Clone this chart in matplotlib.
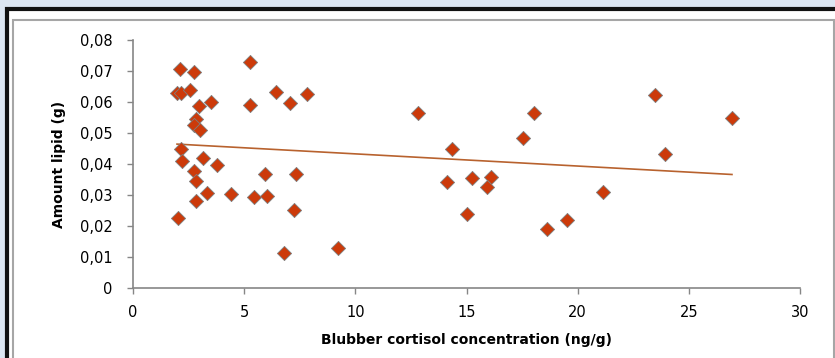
import numpy as np
import matplotlib.pyplot as plt
from matplotlib.patches import Rectangle
from matplotlib.ticker import FuncFormatter

# Données
cortisol = [2.10, 2.73, 1.98, 2.14, 2.58, 2.96, 3.49, 2.82, 2.73, 3.00,
            2.14, 2.22, 3.14, 3.77, 2.74, 2.85, 3.35, 4.42, 2.82, 2.02,
            5.25, 5.25, 6.42, 7.05, 7.84, 5.93, 7.35, 5.45, 6.02, 7.26,
            6.77, 9.22, 12.80, 14.34, 14.13, 15.24, 16.09, 15.90, 15.04, 17.56,
            18.05, 18.61, 19.53, 21.14, 23.50, 23.92, 26.94]
lipid = [0.0707, 0.0696, 0.0630, 0.0630, 0.0639, 0.0587, 0.0600, 0.0545, 0.0526, 0.0510,
         0.0449, 0.0411, 0.0419, 0.0397, 0.0377, 0.0344, 0.0307, 0.0303, 0.0280, 0.0225,
         0.0729, 0.0590, 0.0631, 0.0596, 0.0627, 0.0367, 0.0367, 0.0294, 0.0297, 0.0251,
         0.0113, 0.0130, 0.0565, 0.0449, 0.0341, 0.0355, 0.0359, 0.0325, 0.0239, 0.0484,
         0.0565, 0.0189, 0.0219, 0.0311, 0.0622, 0.0432, 0.0548]

plt.rcParams['font.family'] = ['DejaVu Sans']

fig = plt.figure(figsize=(8.35, 3.58), dpi=100)
fig.patch.set_facecolor('#dce6f2')

# cadre noir + zone blanche + bordure grise (style Excel)
W, H = 835, 358
fig.patches.append(Rectangle((7 / W, -0.1), 1, 1 - 9 / H + 0.1, transform=fig.transFigure,
                             facecolor='white', edgecolor='#111111', linewidth=3, zorder=-10))
fig.patches.append(Rectangle((13 / W, -0.1), (834 - 13) / W, 1 - 20 / H + 0.1, transform=fig.transFigure,
                             facecolor='white', edgecolor='#a6a6a6', linewidth=1.5, zorder=-9))

ax = fig.add_axes([133 / W, 1 - 288 / H, (800 - 133) / W, (288 - 40) / H])
ax.patch.set_alpha(0)

ax.scatter(cortisol, lipid, marker='D', s=52, color='#cc3a0a', edgecolors='#7f7f7f',
           linewidths=0.6, zorder=3)

# courbe de tendance linéaire
a, b = np.polyfit(cortisol, lipid, 1)
xt = np.array([min(cortisol), max(cortisol)])
ax.plot(xt, a * xt + b, color='#b8622e', linewidth=1.2, zorder=2)

ax.set_xlim(0, 30)
ax.set_ylim(0, 0.08)
ax.set_xticks(range(0, 31, 5))
ax.set_yticks(np.arange(0, 0.081, 0.01))
ax.yaxis.set_major_formatter(FuncFormatter(lambda v, p: '0' if v == 0 else f"{v:.2f}".replace('.', ',')))

for s in ['top', 'right']:
    ax.spines[s].set_visible(False)
for s in ['left', 'bottom']:
    ax.spines[s].set_color('#868686')
    ax.spines[s].set_linewidth(1.2)
ax.tick_params(colors='#868686', labelcolor='black', labelsize=10.5, length=4.5, width=1)
ax.tick_params(axis='x', pad=8)
ax.tick_params(axis='y', pad=10)

ax.set_xlabel('Blubber cortisol concentration (ng/g)', fontsize=10, fontweight='bold')
ax.set_ylabel('Amount lipid (g)', fontsize=10, fontweight='bold')
ax.xaxis.set_label_coords(0.5, -0.18)
ax.yaxis.set_label_coords(-0.1, 0.5)

plt.savefig('out.png', dpi=100, facecolor=fig.get_facecolor())
